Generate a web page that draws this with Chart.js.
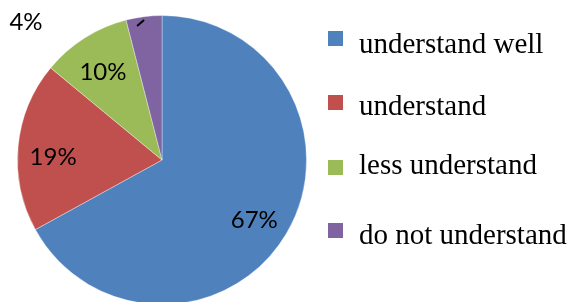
<!DOCTYPE html>
<html>
<head>
<meta charset="utf-8">
<script src="https://cdn.jsdelivr.net/npm/chart.js@4.4.1/dist/chart.umd.min.js"></script>
<style>
    html, body { margin: 0; padding: 0; background: #fff; overflow: hidden; }
    #wrap { width: 571px; height: 302px; overflow: hidden; position: relative; }
</style>
</head>
<body>
<div id="wrap"><canvas id="pieChart" width="571" height="320"></canvas></div>
<script>
const categories = ["understand well", "understand", "less understand", "do not understand"];
const percentages = [67, 19, 10, 4];
const percentLabels = ["67%", "19%", "10%", "4%"];
const sliceColors = ["#4F81BD", "#C0504D", "#9BBB59", "#8064A2"];

// draws the percent labels and the legend on the right
const labelsAndLegend = {
    id: "labelsAndLegend",
    afterDatasetsDraw(chart) {
        const ctx = chart.ctx;
        const arcs = chart.getDatasetMeta(0).data;
        const nudgeY = [5, 7, 4];
        ctx.save();
        ctx.fillStyle = "#000";
        ctx.font = "24px Lato, 'Open Sans', sans-serif";
        ctx.textAlign = "center";
        ctx.textBaseline = "middle";
        for (let i = 0; i < arcs.length; i++) {
            const a = arcs[i];
            const mid = (a.startAngle + a.endAngle) / 2;
            if (i < arcs.length - 1) {
                const r = a.outerRadius * 0.75;
                ctx.fillText(percentLabels[i], a.x + Math.cos(mid) * r - 1, a.y + Math.sin(mid) * r + nudgeY[i]);
            } else {
                // small slice: label outside with a short leader
                const r1 = a.outerRadius * 0.99;
                ctx.strokeStyle = "#000";
                ctx.lineWidth = 2;
                ctx.beginPath();
                ctx.moveTo(a.x + Math.cos(mid) * r1, a.y + Math.sin(mid) * r1 + 2);
                ctx.lineTo(a.x + Math.cos(mid) * r1 - 7, a.y + Math.sin(mid) * r1 + 8);
                ctx.stroke();
                ctx.fillText(percentLabels[i], a.x - 136, a.y - 138);
            }
        }

        // legend
        const boxTop = [31, 95, 160, 223];
        const baseY = [53, 115, 174, 244];
        ctx.font = "29px 'Liberation Serif', 'Times New Roman', serif";
        ctx.textAlign = "left";
        ctx.textBaseline = "alphabetic";
        for (let i = 0; i < categories.length; i++) {
            ctx.fillStyle = sliceColors[i];
            ctx.fillRect(328, boxTop[i], 15, 15);
            ctx.fillStyle = "#000";
            ctx.fillText(categories[i], 359, baseY[i]);
        }
        ctx.restore();
    }
};

new Chart(document.getElementById("pieChart").getContext("2d"), {
    type: "pie",
    data: {
        labels: categories,
        datasets: [{
            data: percentages,
            backgroundColor: sliceColors,
            borderColor: "rgba(255,255,255,0.35)",
            borderWidth: 1
        }]
    },
    options: {
        responsive: false,
        animation: false,
        layout: { padding: { left: 17, top: 15, right: 264, bottom: 15 } },
        plugins: {
            legend: { display: false },
            tooltip: { enabled: false }
        }
    },
    plugins: [labelsAndLegend]
});
</script>
</body>
</html>
